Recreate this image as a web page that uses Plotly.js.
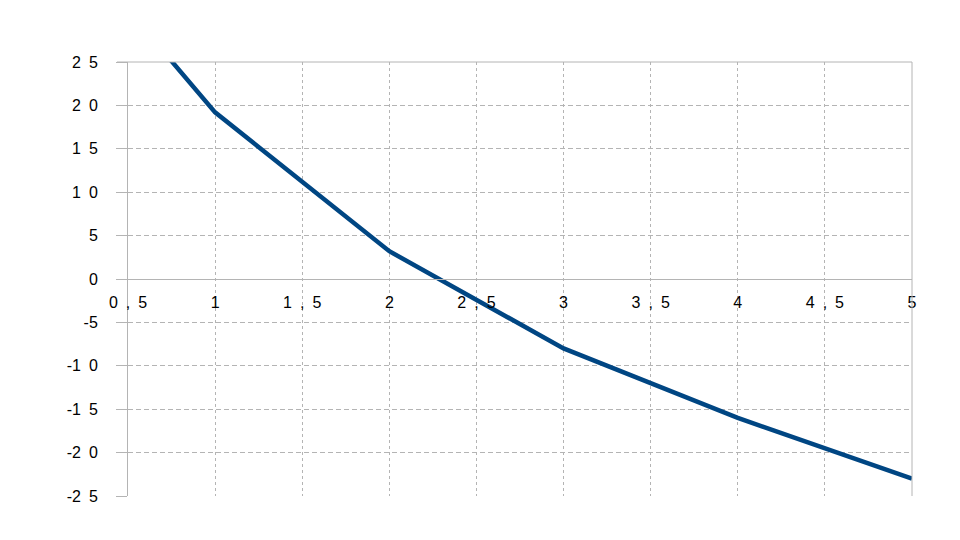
<!DOCTYPE html>
<html>
<head>
<meta charset="utf-8">
<script src="https://cdn.plot.ly/plotly-3.0.1.min.js"></script>
<style>html,body{margin:0;padding:0;background:#fff;}#chart{width:960px;height:540px;}</style>
</head>
<body>
<div id="chart"></div>
<script>
var xValues = [0.5, 1, 2, 3, 4, 5];
var yValues = [31, 19.2, 3.2, -8, -16, -23];
var xTickVals = [0.5, 1, 1.5, 2, 2.5, 3, 3.5, 4, 4.5, 5];
var xTickText = ["0\u2002,\u20025", "1", "1\u2002,\u20025", "2", "2\u2002,\u20025", "3", "3\u2002,\u20025", "4", "4\u2002,\u20025", "5"];
var yTickVals = [25, 20, 15, 10, 5, 0, -5, -10, -15, -20, -25];
var yTickText = ["2\u20025", "2\u20020", "1\u20025", "1\u20020", "5", "0", "-5", "-1\u20020", "-1\u20025", "-2\u20020", "-2\u20025"];

var gray = "#b4b4b4";
var tf = {family: "Liberation Sans, Arial, sans-serif", size: 16, color: "#000"};
var trace = {
  x: xValues, y: yValues, type: "scatter", mode: "lines",
  line: {color: "#004683", width: 4.5},
  hoverinfo: "skip"
};
var layout = {
  width: 960, height: 540,
  margin: {l: 128, r: 48, t: 62, b: 44},
  paper_bgcolor: "#ffffff", plot_bgcolor: "#ffffff",
  showlegend: false,
  font: tf,
  xaxis: {
    range: [0.5, 5], tickvals: xTickVals, ticktext: xTickText,
    anchor: "free", position: 0.5,
    showline: true, linecolor: gray, linewidth: 1,
    showgrid: true, gridcolor: gray, griddash: "3px,3px", gridwidth: 1,
    zeroline: false, ticks: "", ticklabelstandoff: 9,
    tickfont: tf
  },
  yaxis: {
    range: [-25, 25], tickvals: yTickVals, ticktext: yTickText,
    showline: true, linecolor: gray, linewidth: 1,
    showgrid: true, gridcolor: gray, griddash: "5px,3px", gridwidth: 1,
    zeroline: false, ticks: "outside", ticklen: 11, tickcolor: gray, tickwidth: 1,
    ticklabelstandoff: 15,
    tickfont: tf
  },
  shapes: [
    {type: "line", xref: "paper", yref: "paper", x0: 0, x1: 1, y0: 1, y1: 1, line: {color: gray, width: 1}},
    {type: "line", xref: "paper", yref: "paper", x0: 1, x1: 1, y0: 0, y1: 1, line: {color: gray, width: 1}},
    {type: "line", xref: "paper", yref: "paper", x0: -0.014, x1: 0, y0: 1, y1: 1, line: {color: gray, width: 1}}
  ]
};
Plotly.newPlot("chart", [trace], layout, {displayModeBar: false, staticPlot: true});
</script>
</body>
</html>
